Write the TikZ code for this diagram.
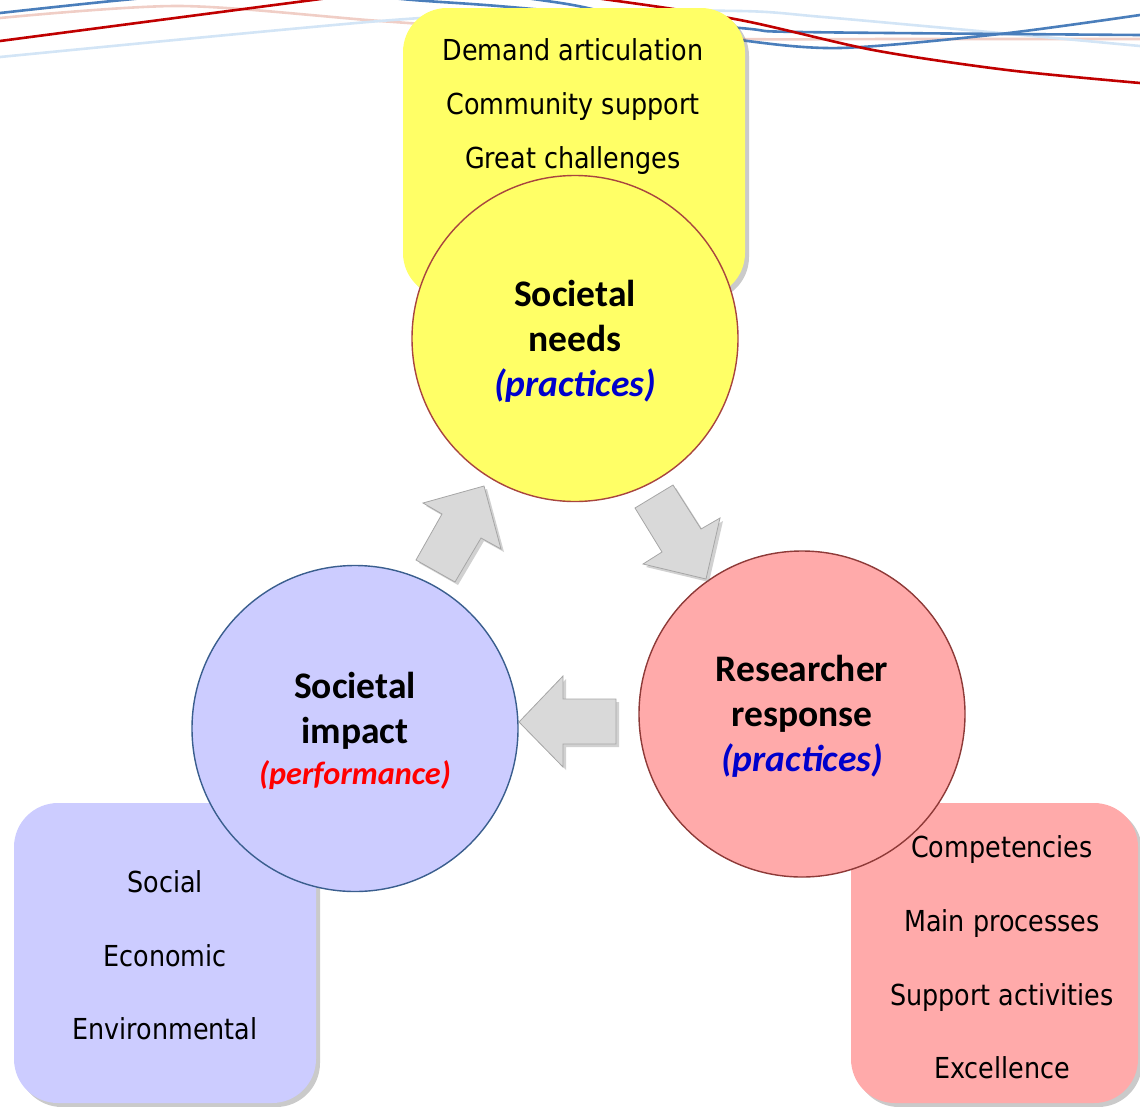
\documentclass[tikz,border=0pt]{standalone}
\usepackage{fontspec}
\setmainfont{DejaVu Sans}[FakeStretch=0.88]
\newfontfamily\calib{Carlito}
\usetikzlibrary{shadows}
\definecolor{yel}{HTML}{FFFF66}
\definecolor{lav}{HTML}{CCCCFF}
\definecolor{pnk}{HTML}{FFAAAA}
\definecolor{ybord}{HTML}{A8453F}
\definecolor{bbord}{HTML}{3A5E8E}
\definecolor{pbord}{HTML}{8E3A38}
\definecolor{arrfill}{HTML}{D9D9D9}
\definecolor{arrline}{HTML}{A6A6A6}
\definecolor{dblue}{HTML}{4A7EBB}
\definecolor{lblue}{HTML}{D3E5F6}
\definecolor{lpink}{HTML}{F0CEC6}
\definecolor{dred}{HTML}{C00000}
\definecolor{txtblue}{HTML}{0000CC}
\begin{document}
\begin{tikzpicture}[x=1pt,y=-1pt,
  deco/.style={line width=2.6pt, line cap=round},
  listbox/.style={rectangle, rounded corners=44pt, draw=none, inner sep=0pt,
    drop shadow={shadow xshift=4pt, shadow yshift=-4pt, opacity=0.35, fill=black!60}},
  bigcirc/.style={circle, minimum size=326pt, inner sep=0pt, line width=1.4pt},
  circtext/.style={align=center, inner sep=0pt,
    font=\calib\bfseries\fontsize{37.5}{45}\selectfont},
  listtext/.style={align=center, inner sep=0pt, font=\fontsize{28.9}{54}\selectfont},
  sidetext/.style={align=center, inner sep=0pt, font=\fontsize{28.9}{73.6}\selectfont},
  blockarrow/.style={fill=arrfill, draw=arrline, line width=0.8pt, line join=miter,
    drop shadow={shadow xshift=3pt, shadow yshift=-3pt, opacity=0.3, fill=black!60}}
]
\useasboundingbox (0,0) rectangle (1140,1106);

% decorative lines at the top
\begin{scope}
\clip (0,0) rectangle (1140,1106);
\draw[deco, lpink] plot[smooth] coordinates {(0,18) (180,6) (380,21) (560,33) (740,39) (900,39) (1140,39)};
\draw[deco, lblue] plot[smooth] coordinates {(0,57) (380,21) (560,12) (740,11) (823,17) (1000,33) (1140,46)};
\draw[deco, dblue] plot[smooth] coordinates {(0,13) (123,0) (270,-12) (413,0) (510,7) (740,28) (800,32) (1140,35)};
\draw[deco, dblue] plot[smooth] coordinates {(480,-8) (540,0) (583,7) (660,25) (740,40) (840,48) (1000,34) (1140,15)};
\draw[deco, dred] plot[smooth] coordinates {(0,41) (313,0) (460,-18) (610,0) (740,20) (873,50) (1007,70) (1140,83)};
\end{scope}

% list boxes
\node[listbox, fill=yel, minimum width=342pt, minimum height=289pt] (ybox) at (574,152.5) {};
\node[listbox, fill=lav, minimum width=302pt, minimum height=300pt] (bbox) at (165,953) {};
\node[listbox, fill=pnk, minimum width=287pt, minimum height=300pt] (pbox) at (994.5,953) {};

% circles
\node[bigcirc, fill=yel, draw=ybord] (needs) at (575,338.5) {};
\node[bigcirc, fill=lav, draw=bbord] (impact) at (355,728.5) {};
\node[bigcirc, fill=pnk, draw=pbord] (response) at (802,714) {};
\node[circtext] (needs-t) at (575,341)
  {Societal\\needs\\\textcolor{txtblue}{\itshape (practices)}};
\node[circtext] (impact-t) at (355,730.5)
  {Societal\\impact\\[-4pt]\textcolor{red}{\fontsize{32.3}{45}\selectfont\itshape (performance)}};
\node[circtext] (response-t) at (802,716.5)
  {Researcher\\response\\\textcolor{txtblue}{\itshape (practices)}};

% list texts
\node[listtext] (ylist) at (573,107) {Demand articulation\\Community support\\Great challenges};
\node[sidetext] (blist) at (165,955.5) {Social\\Economic\\Environmental};
\node[sidetext] (plist) at (1002,957.5) {Competencies\\Main processes\\Support activities\\Excellence};

% block arrows
\path[blockarrow] (484,486) -- (501,549) -- (481,538) -- (455,582) -- (416,560) -- (442,514) -- (423,503) -- cycle;
\path[blockarrow] (635,508) -- (673,485) -- (701,529) -- (720,518) -- (706,579) -- (643,564) -- (662,552) -- cycle;
\path[blockarrow] (519,722) -- (563,676) -- (563,699) -- (616,699) -- (616,744) -- (563,744) -- (563,767) -- cycle;
\end{tikzpicture}
\end{document}
